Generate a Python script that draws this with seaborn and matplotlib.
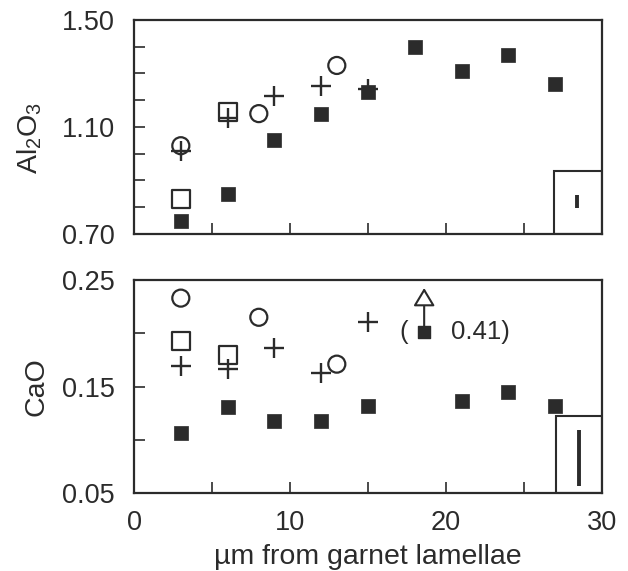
import matplotlib
matplotlib.use("Agg")
import matplotlib.pyplot as plt
import seaborn as sns
import numpy as np
from matplotlib.patches import Rectangle

sns.set_theme(style="white")
plt.rcParams["font.family"] = ["Liberation Sans", "DejaVu Sans"]
plt.rcParams["mathtext.fontset"] = "custom"
plt.rcParams["mathtext.rm"] = "Liberation Sans"
plt.rcParams["mathtext.it"] = "Liberation Sans:italic"
plt.rcParams["mathtext.default"] = "regular"

# ---------------- data ----------------
# Al2O3 panel
al_x_filled = [3, 6, 9, 12, 15, 18, 21, 24, 27]
al_filled = [0.75, 0.85, 1.05, 1.15, 1.23, 1.40, 1.31, 1.37, 1.26]
al_x_circle = [3, 8, 13]
al_circle = [1.03, 1.15, 1.33]
al_x_square = [3, 6]
al_square = [0.83, 1.155]
al_x_plus = [3, 6, 9, 12, 15]
al_plus = [1.01, 1.132, 1.215, 1.255, 1.243]
al_err_center = 0.822
al_err_half = 0.024

# CaO panel
ca_x_filled = [3, 6, 9, 12, 15, 21, 24, 27]
ca_filled = [0.106, 0.131, 0.118, 0.118, 0.132, 0.136, 0.145, 0.132]
ca_x_circle = [3, 8, 13]
ca_circle = [0.233, 0.215, 0.171]
ca_x_square = [3, 6]
ca_square = [0.193, 0.180]
ca_x_plus = [3, 6, 9, 12, 15]
ca_plus = [0.169, 0.166, 0.186, 0.163, 0.211]
ca_offscale_x = 18
ca_offscale_value = 0.41
ca_err_center = 0.083
ca_err_half = 0.0265

x_ticks = [0, 10, 20, 30]
x_minor = [5, 15, 25]
al_ticks = [0.70, 1.10, 1.50]
ca_ticks = [0.05, 0.15, 0.25]

INK = "#2b2b2b"

fig = plt.figure(figsize=(6.28, 5.71), dpi=100)
ax1 = fig.add_axes([0.2134, 0.5902, 0.7452, 0.3748])
ax2 = fig.add_axes([0.2134, 0.1366, 0.7452, 0.373])


def draw(ax, xf, yf, xc, yc, xs, ys, xp, yp):
    sns.scatterplot(x=xp, y=yp, ax=ax, marker="+", s=200, color=INK,
                    linewidth=1.7, zorder=3)
    sns.scatterplot(x=xc, y=yc, ax=ax, marker="o", s=150, facecolor="none",
                    edgecolor=INK, color=INK, linewidth=1.6, zorder=3)
    sns.scatterplot(x=xs, y=ys, ax=ax, marker="s", s=170, facecolor="none",
                    edgecolor=INK, color=INK, linewidth=1.6, zorder=3)
    sns.scatterplot(x=xf, y=yf, ax=ax, marker="s", s=95, color=INK,
                    edgecolor=INK, linewidth=0.5, zorder=4)


draw(ax1, al_x_filled, al_filled, al_x_circle, al_circle,
     al_x_square, al_square, al_x_plus, al_plus)
draw(ax2, ca_x_filled, ca_filled, ca_x_circle, ca_circle,
     ca_x_square, ca_square, ca_x_plus, ca_plus)

# error-bar insets
ax1.add_patch(Rectangle((26.9, 0.70), 3.1, 0.234, fill=False, ec=INK,
                        lw=1.5, zorder=2))
ax1.errorbar([28.4], [al_err_center], yerr=[al_err_half], fmt="none",
             ecolor=INK, elinewidth=2.8, capsize=0)
ax2.add_patch(Rectangle((27.05, 0.05), 2.95, 0.072, fill=False, ec=INK,
                        lw=1.5, zorder=2))
ax2.errorbar([28.5], [ca_err_center], yerr=[ca_err_half], fmt="none",
             ecolor=INK, elinewidth=2.8, capsize=0)

# off-scale annotation
ax2.text(17.3, 0.2016, "(", fontsize=18.5, color=INK, ha="center", va="center")
ax2.scatter([ca_offscale_x + 0.6], [0.2016], marker="s", s=75, color=INK,
            zorder=4)
ax2.text(20.3, 0.2016, f"{ca_offscale_value:.2f})", fontsize=18.5, color=INK,
         ha="left", va="center")
ax2.annotate("", xy=(ca_offscale_x + 0.6, 0.2425),
             xytext=(ca_offscale_x + 0.6, 0.2065),
             arrowprops=dict(arrowstyle="-|>,head_length=0.55,head_width=0.33",
                             fc="white", ec=INK, lw=1.5, shrinkA=0, shrinkB=0,
                             mutation_scale=20))

for ax in (ax1, ax2):
    ax.set_xlim(0, 30)
    ax.set_xticks(x_ticks)
    ax.set_xticks(x_minor, minor=True)
    for s in ax.spines.values():
        s.set_linewidth(1.6)
        s.set_color(INK)
    ax.tick_params(which="both", direction="in", length=8, width=1.2,
                   color=INK, labelsize=19.5, labelcolor=INK,
                   bottom=True, left=True, top=False, right=False)
    ax.tick_params(axis="y", which="both", pad=14)
    ax.tick_params(axis="x", which="both", pad=12)

ax1.set_ylim(0.70, 1.50)
ax1.set_yticks(al_ticks)
ax1.set_yticklabels([f"{v:.2f}" for v in al_ticks])
ax1.set_yticks(np.arange(0.8, 1.45, 0.1), minor=True)
ax1.set_xticklabels([])

ax2.set_ylim(0.05, 0.25)
ax2.set_yticks(ca_ticks)
ax2.set_yticklabels([f"{v:.2f}" for v in ca_ticks])
ax2.set_yticks([0.10, 0.20], minor=True)
ax2.set_xticklabels([str(v) for v in x_ticks])

ax1.set_ylabel(r"Al$_2$O$_3$", fontsize=20.5, color=INK)
ax1.yaxis.label.set_va("center")
ax1.yaxis.set_label_coords(-0.222, 0.45)
ax2.set_ylabel("CaO", fontsize=20.5, color=INK)
ax2.yaxis.label.set_va("center")
ax2.yaxis.set_label_coords(-0.209, 0.5)
ax2.set_xlabel("µm from garnet lamellae", fontsize=20.5, color=INK,
               labelpad=6)

fig.savefig("out.png", dpi=100)
